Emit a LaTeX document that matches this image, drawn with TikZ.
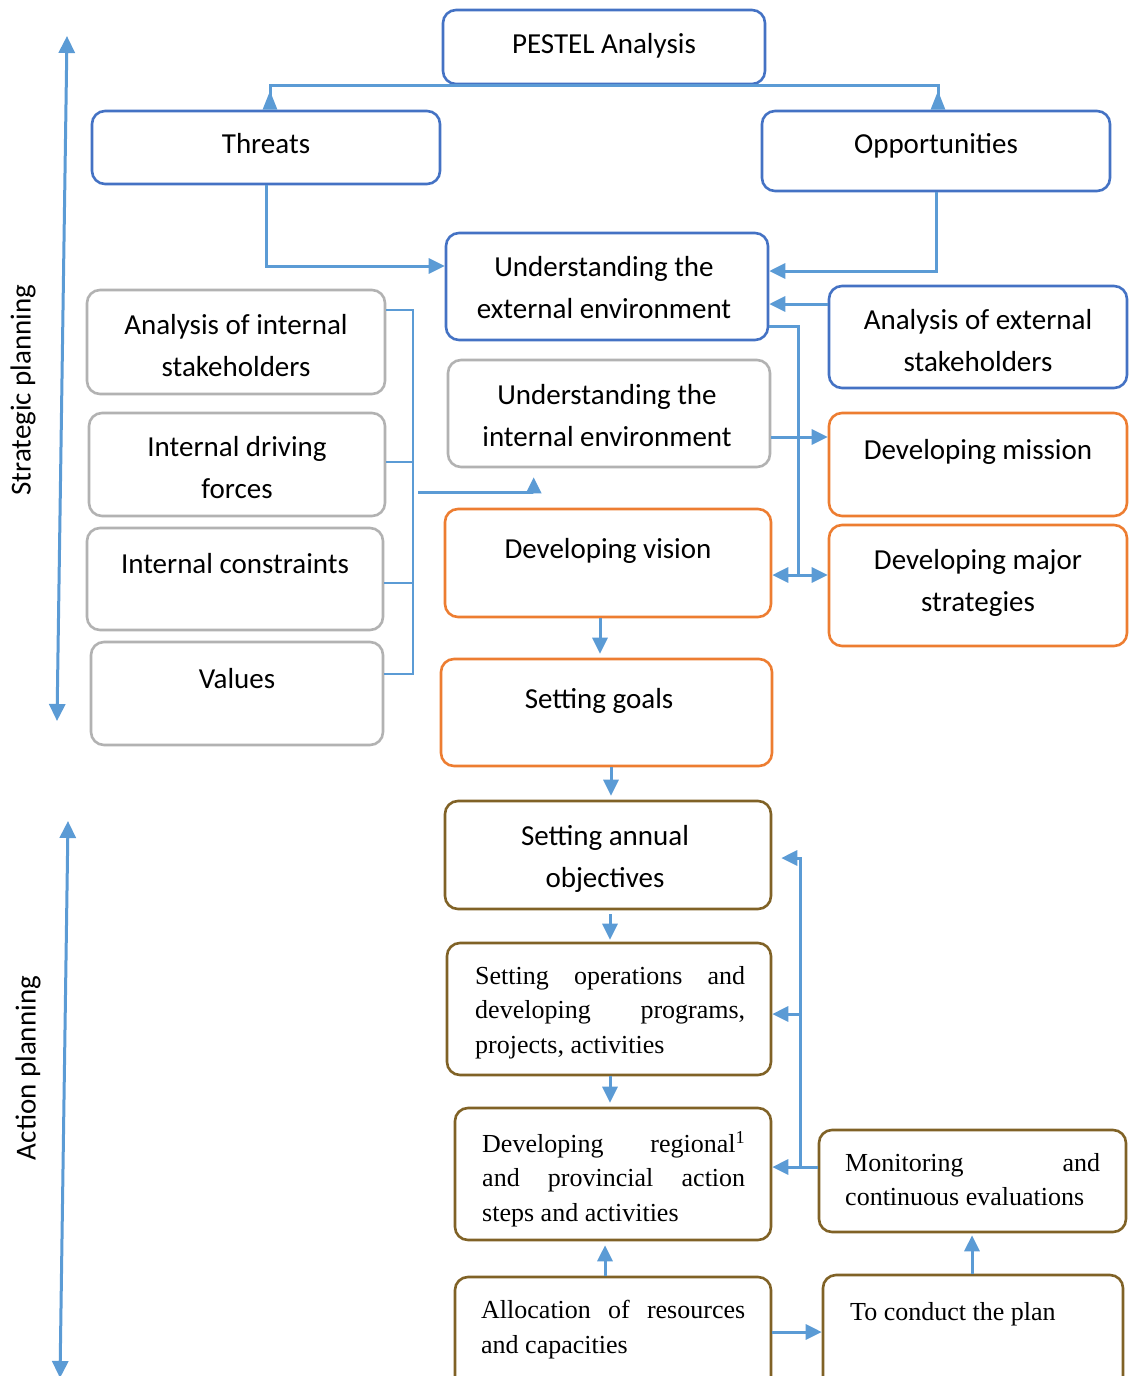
\documentclass[tikz,border=0pt]{standalone}
\usepackage{fontspec}
\setmainfont{Carlito}
\newfontfamily\tnr{Liberation Serif}
\usetikzlibrary{arrows.meta,fit,calc}
\definecolor{bblue}{RGB}{68,114,196}
\definecolor{ablue}{RGB}{91,155,213}
\definecolor{bgray}{RGB}{178,178,178}
\definecolor{borange}{RGB}{237,125,49}
\definecolor{bbrown}{RGB}{128,98,38}
\begin{document}
\begin{tikzpicture}[x=1pt,y=-1pt,
  bx/.style={draw, rounded corners=13pt, line width=2.6pt, fill=white, inner sep=0pt},
  bluebox/.style={bx, draw=bblue},
  graybox/.style={bx, draw=bgray},
  orangebox/.style={bx, draw=borange},
  brownbox/.style={bx, draw=bbrown},
  ct/.style={font=\fontsize{29}{42}\selectfont, align=center, inner sep=0pt, anchor=north, execute at begin node=\strut},
  st/.style={font=\tnr\fontsize{26}{34.5}\selectfont, align=left, inner sep=0pt, anchor=north west, execute at begin node=\strut},
  side/.style={font=\fontsize{29}{35}\selectfont, inner sep=0pt, rotate=90},
  arr/.style={draw=ablue, line width=3pt, -{Triangle[length=16pt,width=15pt]}},
  rarr/.style={draw=ablue, line width=3pt, -{Triangle[reversed,length=19pt,width=14pt]}},
  conn/.style={draw=ablue, line width=3pt},
  thinl/.style={draw=ablue, line width=1.5pt},
  dbl/.style={draw=ablue, line width=3pt, {Triangle[length=17pt,width=16pt]}-{Triangle[length=17pt,width=16pt]}},
]
\useasboundingbox[fill=white] (0,0) rectangle (1130,1376);
\clip (0,0) rectangle (1130,1376);

% boxes
\node[bluebox, fit={(443,10) (765,84)}] (pestel) {};
\node[bluebox, fit={(92,111) (440,184)}] (threats) {};
\node[bluebox, fit={(762,111) (1110,191)}] (opp) {};
\node[bluebox, fit={(446,233) (768,340)}] (ue) {};
\node[bluebox, fit={(829,286) (1127,388)}] (aes) {};
\node[graybox, fit={(87,290) (385,394)}] (ais) {};
\node[graybox, fit={(448,360) (770,467)}] (ui) {};
\node[graybox, fit={(89,413) (385,516)}] (idf) {};
\node[orangebox, fit={(829,413) (1127,516)}] (mission) {};
\node[graybox, fit={(87,528) (383,630)}] (ic) {};
\node[orangebox, fit={(445,509) (771,617)}] (vision) {};
\node[orangebox, fit={(829,525) (1127,646)}] (strat) {};
\node[graybox, fit={(91,642) (383,745)}] (values) {};
\node[orangebox, fit={(441,659) (772,766)}] (goals) {};
\node[brownbox, fit={(445,801) (771,909)}] (annual) {};
\node[brownbox, fit={(447,943) (771,1075)}] (ops) {};
\node[brownbox, fit={(455,1108) (771,1240)}] (regional) {};
\node[brownbox, fit={(819,1130) (1126,1232)}] (mon) {};
\node[brownbox, fit={(455,1277) (771,1398)}] (alloc) {};
\node[brownbox, fit={(823,1275) (1123,1398)}] (conduct) {};

% texts
\node[ct] (pestel-t) at (604,24) {PESTEL Analysis};
\node[ct] (threats-t) at (266,124) {Threats};
\node[ct] (opp-t) at (936,124) {Opportunities};
\node[ct] (ue-t) at (604,256) {Understanding the\\external environment};
\node[ct] (aes-t) at (978,309) {Analysis of external\\stakeholders};
\node[ct] (ais-t) at (236,314) {Analysis of internal\\stakeholders};
\node[ct] (ui-t) at (607,384) {Understanding the\\internal environment};
\node[ct] (idf-t) at (237,436) {Internal driving\\forces};
\node[ct] (mission-t) at (978,430) {Developing mission};
\node[ct] (ic-t) at (235,544) {Internal constraints};
\node[ct] (vision-t) at (608,529) {Developing vision};
\node[ct] (strat-t) at (978,549) {Developing major\\strategies};
\node[ct] (values-t) at (237,659) {Values};
\node[ct] (goals-t) at (599,679) {Setting goals};
\node[ct] (annual-t) at (605,825) {Setting annual\\objectives};

\node[st] (ops-t) at (475,966) {\makebox[270pt][s]{Setting operations and}\\\makebox[270pt][s]{developing programs,}\\projects, activities};
\node[st] (regional-t) at (482,1131) {\makebox[263pt][s]{Developing regional\textsuperscript{1}}\\\makebox[263pt][s]{and provincial action}\\steps and activities};
\node[st] (mon-t) at (845,1153) {\makebox[255pt][s]{Monitoring and}\\continuous evaluations};
\node[st] (alloc-t) at (481,1300) {\makebox[264pt][s]{Allocation of resources}\\and capacities};
\node[st] (conduct-t) at (850,1296) {To conduct the plan};

% side labels
\node[side] (sp) at (23,390) {Strategic planning};
\node[side] (ap) at (28,1068) {Action planning};
\coordinate (s1) at (67,36);
\coordinate (s2) at (57,721);
\coordinate (a1) at (68,821);
\coordinate (a2) at (60,1378);
\draw[dbl] (s1) -- (s2);
\draw[dbl] (a1) -- (a2);

% connectors: top part
\draw[rarr] (pestel.south) -| (threats.north -| 270,0);
\draw[rarr] (pestel.south) -| (opp.north -| 938,0);
\draw[arr] (threats.south) |- (ue.west |- 0,266);
\draw[arr] (opp.south) |- (ue.east |- 0,271);
\draw[arr] (aes.west |- 0,304) -- (ue.east |- 0,304);
\coordinate (j1) at (798,575);
\draw[conn] (ue.east |- 0,326) -| (j1);
\draw[arr] (j1) -- (vision.east |- j1);
\draw[arr] (j1) -- (strat.west |- j1);
\draw[arr] (ui.east |- 0,437) -- (mission.west |- 0,437);

% internal bracket
\coordinate (bt) at (413,310);
\coordinate (bb) at (413,674);
\draw[thinl] (ais.east |- bt) -- (bt) -- (bb) -- (values.east |- bb);
\draw[thinl] (idf.east |- 0,462) -- (bt |- 0,462);
\draw[thinl] (ic.east |- 0,583) -- (bt |- 0,583);
\coordinate (bi) at (418,492);
\draw[arr, shorten >=9pt] (bi) -| ([xshift=87pt]ui.south west);

% vertical chain
\draw[arr, shorten >=4pt] (vision.south -| 600,0) -- (goals.north -| 600,0);
\draw[arr, shorten >=4pt] (goals.south -| 611,0) -- (annual.north -| 611,0);
\draw[arr, shorten <=4pt, shorten >=2pt] (annual.south -| 610,0) -- (ops.north -| 610,0);
\draw[arr, shorten >=4pt] (ops.south -| 610,0) -- (regional.north -| 610,0);
\draw[arr, shorten >=4pt] (alloc.north -| 605,0) -- (regional.south -| 605,0);
\draw[arr] (alloc.east |- 0,1332) -- (conduct.west |- 0,1332);
\draw[arr, shorten >=2pt] (conduct.north -| 972,0) -- (mon.south -| 972,0);

% feedback
\coordinate (fb) at (800,1167);
\draw[arr] (mon.west |- fb) -- (regional.east |- fb);
\draw[arr, shorten >=9pt] (fb) |- (annual.east |- 0,858);
\draw[arr] (fb |- 0,1014) -- (ops.east |- 0,1014);
\end{tikzpicture}
\end{document}
